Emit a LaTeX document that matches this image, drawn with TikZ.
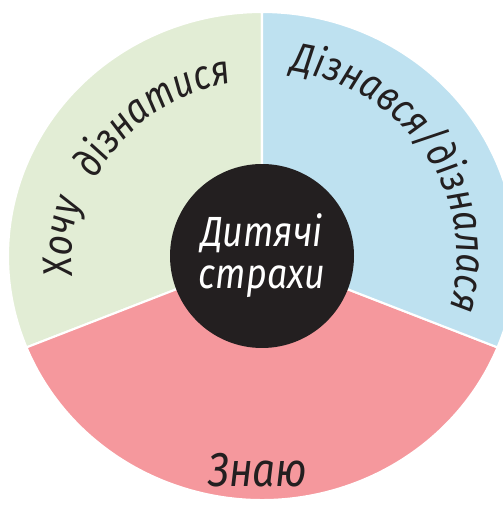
\documentclass[tikz,border=0pt]{standalone}
\usepackage{fontspec}
\setmainfont{Fira Sans}
\newfontfamily\handfont{Fira Sans}[FakeStretch=0.85]
\usepackage{tikz}
\usetikzlibrary{decorations.text}

\definecolor{wantgreen}{RGB}{226,237,213}
\definecolor{learntblue}{RGB}{190,225,240}
\definecolor{knowpink}{RGB}{245,152,157}
\definecolor{inkblack}{RGB}{35,31,32}
\newcommand{\arcfont}{\handfont\itshape\fontsize{23.5pt}{27pt}\selectfont}

\begin{document}
\begin{tikzpicture}[
  every node/.style={font=\handfont\itshape},
  sector/.style={draw=white, line width=1.2pt},
  arclabel/.style={decorate, decoration={text along path, text align=center, text color=inkblack}}
]
\useasboundingbox (-5.24,-5.02) rectangle (4.80,5.12);
\coordinate (O) at (0,0);

% Sectors
\filldraw[sector, fill=wantgreen] (O) -- (90:5.08 and 4.88)
  arc[start angle=90, end angle=202, x radius=5.08, y radius=4.88] -- cycle;
\filldraw[sector, fill=knowpink] (O) -- (202:5.08 and 4.88)
  arc[start angle=202, end angle=338, x radius=5.08, y radius=4.88] -- cycle;
\filldraw[sector, fill=learntblue] (O) -- (-22:5.08 and 4.88)
  arc[start angle=-22, end angle=90, x radius=5.08, y radius=4.88] -- cycle;

% Core
\node[circle, fill=inkblack, minimum size=3.68cm, inner sep=0pt, text=white, align=center,
  font=\handfont\itshape\fontsize{24pt}{24pt}\selectfont] (core) at (O) {Дитячі\\страхи};

% Labels along arcs
\path[arclabel, decoration={text={|\arcfont|Хочу}}]
  (197:3.8 and 3.5) arc[start angle=197, end angle=151, x radius=3.8, y radius=3.5];
\path[arclabel, decoration={text={|\arcfont|дізнатися}}]
  (164:3.7 and 3.5) arc[start angle=164, end angle=90, x radius=3.7, y radius=3.5];
\path[arclabel, decoration={text={|\arcfont|Дізнався/дізналася}}]
  (88:3.9 and 3.74) arc[start angle=88, end angle=-23, x radius=3.9, y radius=3.74];

% Bottom label
\node[font=\handfont\itshape\fontsize{27pt}{29pt}\selectfont, text=inkblack] (know) at (-0.08,-4.28) {Знаю};
\end{tikzpicture}
\end{document}
